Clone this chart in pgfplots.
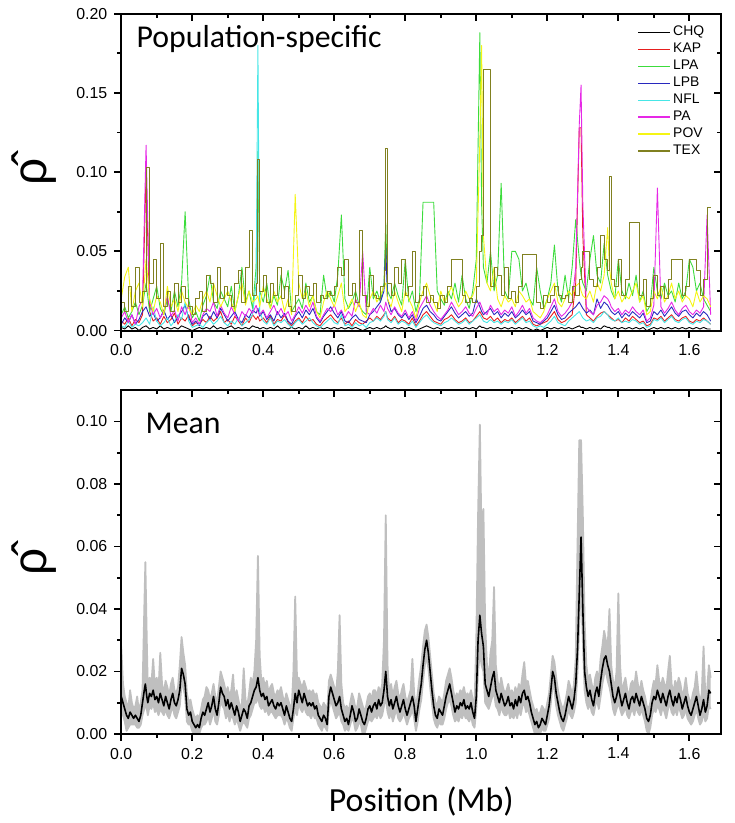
\documentclass[border=0pt]{standalone}
\usepackage{fontspec}
\setmainfont{Liberation Sans}
\newfontfamily\calib{Carlito}
\usepackage{pgfplots}
\pgfplotsset{compat=1.18}
\usepackage{pgfplotstable}
\usepgfplotslibrary{fillbetween}

\definecolor{cCHQ}{RGB}{0,0,0}
\definecolor{cKAP}{RGB}{230,30,30}
\definecolor{cLPA}{RGB}{60,220,60}
\definecolor{cLPB}{RGB}{40,40,190}
\definecolor{cNFL}{RGB}{70,230,230}
\definecolor{cPA}{RGB}{230,40,230}
\definecolor{cPOV}{RGB}{245,245,20}
\definecolor{cTEX}{RGB}{128,128,32}

% population-specific estimates
\pgfplotstableread{
x chq kap lpa lpb nfl pa pov tex
0.00 0.002 0.006 0.010 0.004 0.003 0.008 0.020 0.018
0.01 0.001 0.004 0.015 0.008 0.002 0.012 0.034 0.012
0.02 0.003 0.008 0.008 0.005 0.006 0.005 0.040 0.028
0.03 0.001 0.003 0.012 0.010 0.002 0.010 0.012 0.015
0.04 0.002 0.007 0.018 0.004 0.004 0.004 0.025 0.040
0.05 0.000 0.005 0.010 0.007 0.003 0.015 0.030 0.018
0.06 0.002 0.010 0.016 0.012 0.005 0.020 0.015 0.025
0.07 0.003 0.100 0.030 0.015 0.008 0.117 0.045 0.103
0.08 0.001 0.012 0.012 0.009 0.004 0.018 0.020 0.030
0.09 0.002 0.006 0.020 0.011 0.015 0.010 0.012 0.045
0.10 0.001 0.008 0.028 0.006 0.006 0.014 0.022 0.020
0.11 0.003 0.004 0.014 0.008 0.003 0.008 0.018 0.055
0.12 0.001 0.009 0.010 0.013 0.005 0.012 0.010 0.015
0.13 0.002 0.005 0.020 0.007 0.008 0.022 0.028 0.025
0.14 0.001 0.007 0.012 0.010 0.003 0.009 0.015 0.012
0.15 0.002 0.011 0.025 0.005 0.006 0.013 0.020 0.030
0.16 0.001 0.004 0.015 0.009 0.010 0.006 0.012 0.018
0.17 0.003 0.008 0.030 0.012 0.007 0.015 0.025 0.028
0.18 0.002 0.006 0.075 0.016 0.018 0.010 0.018 0.020
0.19 0.001 0.010 0.020 0.008 0.006 0.017 0.014 0.015
0.20 0.000 0.003 0.008 0.004 0.002 0.005 0.010 0.010
0.21 0.001 0.005 0.012 0.006 0.003 0.008 0.016 0.020
0.22 0.002 0.004 0.006 0.003 0.004 0.004 0.012 0.025
0.23 0.001 0.007 0.016 0.009 0.002 0.010 0.020 0.012
0.24 0.002 0.005 0.022 0.011 0.005 0.014 0.025 0.035
0.25 0.001 0.009 0.035 0.007 0.007 0.012 0.018 0.030
0.26 0.003 0.006 0.018 0.012 0.004 0.018 0.030 0.018
0.27 0.001 0.008 0.014 0.008 0.006 0.009 0.022 0.040
0.28 0.002 0.012 0.025 0.014 0.009 0.016 0.015 0.020
0.29 0.001 0.005 0.020 0.010 0.005 0.011 0.020 0.028
0.30 0.002 0.007 0.015 0.006 0.003 0.008 0.025 0.022
0.31 0.003 0.004 0.028 0.009 0.006 0.015 0.018 0.015
0.32 0.001 0.009 0.012 0.012 0.004 0.010 0.012 0.030
0.33 0.002 0.006 0.022 0.007 0.008 0.006 0.022 0.038
0.34 0.001 0.003 0.040 0.005 0.003 0.012 0.030 0.018
0.35 0.002 0.008 0.018 0.010 0.005 0.009 0.016 0.040
0.36 0.001 0.005 0.025 0.008 0.007 0.014 0.025 0.063
0.37 0.003 0.010 0.014 0.013 0.010 0.011 0.018 0.022
0.38 0.002 0.007 0.040 0.011 0.030 0.016 0.020 0.030
0.385 0.002 0.009 0.113 0.014 0.180 0.012 0.022 0.108
0.39 0.001 0.006 0.025 0.009 0.012 0.010 0.015 0.025
0.40 0.002 0.008 0.018 0.012 0.006 0.013 0.028 0.035
0.41 0.001 0.005 0.030 0.007 0.004 0.008 0.020 0.018
0.42 0.002 0.009 0.014 0.010 0.008 0.012 0.014 0.030
0.43 0.001 0.004 0.022 0.006 0.003 0.016 0.025 0.022
0.44 0.003 0.007 0.016 0.012 0.006 0.010 0.018 0.040
0.45 0.001 0.006 0.035 0.008 0.005 0.014 0.022 0.020
0.46 0.002 0.010 0.025 0.011 0.007 0.009 0.012 0.028
0.47 0.001 0.005 0.038 0.006 0.004 0.012 0.020 0.015
0.48 0.002 0.003 0.012 0.004 0.002 0.006 0.010 0.012
0.49 0.001 0.006 0.016 0.009 0.005 0.010 0.086 0.022
0.50 0.002 0.008 0.020 0.012 0.007 0.015 0.030 0.035
0.51 0.001 0.005 0.014 0.008 0.004 0.011 0.020 0.020
0.52 0.003 0.009 0.030 0.013 0.006 0.016 0.025 0.028
0.53 0.001 0.006 0.018 0.010 0.008 0.012 0.015 0.022
0.54 0.002 0.007 0.022 0.014 0.005 0.018 0.022 0.030
0.55 0.001 0.004 0.012 0.008 0.003 0.009 0.012 0.018
0.56 0.002 0.003 0.010 0.005 0.002 0.006 0.008 0.022
0.57 0.001 0.006 0.035 0.009 0.004 0.010 0.018 0.020
0.58 0.002 0.008 0.020 0.012 0.006 0.014 0.025 0.025
0.59 0.001 0.010 0.025 0.015 0.008 0.012 0.020 0.022
0.60 0.002 0.007 0.018 0.011 0.005 0.016 0.015 0.028
0.61 0.001 0.005 0.035 0.008 0.004 0.010 0.022 0.040
0.62 0.002 0.008 0.073 0.012 0.010 0.013 0.030 0.035
0.63 0.001 0.004 0.020 0.006 0.003 0.008 0.012 0.045
0.64 0.002 0.006 0.014 0.005 0.004 0.012 0.015 0.022
0.65 0.001 0.003 0.018 0.008 0.002 0.009 0.020 0.030
0.66 0.002 0.007 0.025 0.010 0.005 0.020 0.012 0.018
0.67 0.001 0.005 0.016 0.007 0.003 0.015 0.018 0.063
0.68 0.000 0.004 0.012 0.006 0.004 0.050 0.010 0.022
0.69 0.001 0.006 0.010 0.005 0.002 0.012 0.008 0.015
0.70 0.002 0.008 0.040 0.010 0.005 0.010 0.020 0.035
0.71 0.001 0.006 0.020 0.012 0.006 0.014 0.025 0.022
0.72 0.002 0.009 0.025 0.015 0.008 0.011 0.018 0.020
0.73 0.001 0.007 0.018 0.018 0.006 0.016 0.022 0.028
0.74 0.002 0.010 0.030 0.025 0.009 0.012 0.028 0.038
0.745 0.003 0.012 0.068 0.053 0.012 0.018 0.030 0.115
0.75 0.002 0.008 0.025 0.020 0.007 0.014 0.020 0.030
0.76 0.001 0.006 0.020 0.012 0.005 0.010 0.015 0.022
0.77 0.002 0.009 0.030 0.014 0.008 0.015 0.025 0.040
0.78 0.001 0.005 0.022 0.010 0.004 0.011 0.018 0.030
0.79 0.002 0.007 0.016 0.008 0.006 0.009 0.012 0.045
0.80 0.001 0.006 0.045 0.011 0.005 0.013 0.025 0.022
0.81 0.002 0.004 0.018 0.007 0.003 0.008 0.020 0.028
0.82 0.001 0.008 0.025 0.010 0.006 0.012 0.015 0.050
0.83 0.000 0.003 0.012 0.005 0.002 0.006 0.008 0.018
0.84 0.001 0.006 0.020 0.009 0.005 0.014 0.018 0.022
0.85 0.002 0.010 0.081 0.014 0.008 0.018 0.025 0.028
0.86 0.003 0.012 0.081 0.016 0.010 0.022 0.030 0.018
0.87 0.002 0.009 0.081 0.012 0.007 0.016 0.022 0.022
0.88 0.001 0.006 0.081 0.010 0.005 0.012 0.018 0.018
0.89 0.002 0.005 0.025 0.007 0.004 0.009 0.012 0.014
0.90 0.001 0.004 0.020 0.006 0.003 0.007 0.025 0.022
0.91 0.002 0.007 0.016 0.009 0.005 0.010 0.018 0.018
0.92 0.001 0.008 0.025 0.012 0.006 0.013 0.022 0.028
0.93 0.002 0.010 0.020 0.015 0.008 0.018 0.028 0.045
0.94 0.001 0.007 0.030 0.011 0.006 0.014 0.020 0.045
0.95 0.002 0.005 0.018 0.008 0.004 0.010 0.015 0.045
0.96 0.001 0.006 0.035 0.010 0.005 0.012 0.018 0.022
0.97 0.002 0.008 0.020 0.012 0.007 0.015 0.025 0.018
0.98 0.001 0.005 0.014 0.009 0.004 0.011 0.020 0.020
0.99 0.002 0.006 0.025 0.011 0.006 0.009 0.022 0.018
1.00 0.001 0.009 0.045 0.020 0.008 0.014 0.030 0.028
1.01 0.003 0.012 0.188 0.015 0.010 0.018 0.120 0.050
1.015 0.002 0.010 0.080 0.012 0.008 0.015 0.180 0.060
1.02 0.002 0.008 0.040 0.010 0.006 0.012 0.060 0.165
1.03 0.001 0.007 0.030 0.012 0.005 0.010 0.030 0.165
1.04 0.002 0.009 0.050 0.014 0.007 0.016 0.025 0.028
1.05 0.001 0.006 0.025 0.010 0.005 0.012 0.040 0.040
1.06 0.002 0.008 0.035 0.012 0.006 0.014 0.020 0.035
1.07 0.001 0.005 0.093 0.008 0.004 0.010 0.015 0.022
1.08 0.002 0.007 0.025 0.011 0.006 0.013 0.022 0.040
1.09 0.001 0.006 0.020 0.009 0.005 0.011 0.018 0.020
1.10 0.002 0.008 0.050 0.012 0.007 0.015 0.020 0.025
1.11 0.001 0.005 0.050 0.008 0.004 0.009 0.015 0.018
1.12 0.002 0.007 0.045 0.010 0.006 0.012 0.025 0.028
1.13 0.001 0.009 0.025 0.013 0.008 0.016 0.022 0.048
1.14 0.002 0.006 0.030 0.010 0.005 0.011 0.018 0.048
1.15 0.001 0.008 0.020 0.012 0.006 0.014 0.020 0.048
1.16 0.000 0.004 0.016 0.006 0.003 0.008 0.012 0.048
1.17 0.001 0.003 0.040 0.005 0.002 0.006 0.010 0.018
1.18 0.000 0.004 0.025 0.004 0.003 0.005 0.008 0.014
1.19 0.001 0.005 0.014 0.006 0.002 0.007 0.012 0.022
1.20 0.002 0.006 0.020 0.008 0.004 0.010 0.020 0.018
1.21 0.001 0.009 0.030 0.012 0.006 0.015 0.025 0.022
1.22 0.002 0.012 0.054 0.016 0.009 0.020 0.030 0.028
1.23 0.001 0.007 0.025 0.010 0.005 0.012 0.018 0.022
1.24 0.002 0.005 0.018 0.007 0.004 0.009 0.015 0.020
1.25 0.001 0.006 0.035 0.008 0.003 0.011 0.020 0.022
1.26 0.002 0.008 0.020 0.011 0.006 0.014 0.025 0.018
1.27 0.001 0.010 0.040 0.013 0.008 0.018 0.022 0.028
1.28 0.002 0.030 0.070 0.015 0.010 0.040 0.028 0.022
1.29 0.003 0.128 0.045 0.018 0.012 0.130 0.030 0.032
1.295 0.002 0.128 0.035 0.016 0.010 0.155 0.025 0.040
1.30 0.002 0.060 0.030 0.014 0.008 0.080 0.022 0.050
1.31 0.001 0.010 0.025 0.011 0.006 0.015 0.020 0.050
1.32 0.002 0.008 0.045 0.013 0.007 0.012 0.025 0.032
1.33 0.001 0.006 0.060 0.010 0.005 0.010 0.018 0.028
1.34 0.002 0.009 0.035 0.020 0.008 0.016 0.030 0.040
1.35 0.001 0.011 0.030 0.014 0.009 0.018 0.025 0.060
1.36 0.003 0.012 0.055 0.018 0.012 0.022 0.035 0.045
1.37 0.002 0.010 0.035 0.016 0.010 0.020 0.065 0.038
1.375 0.002 0.009 0.030 0.014 0.008 0.018 0.040 0.097
1.38 0.001 0.008 0.025 0.012 0.007 0.015 0.030 0.032
1.39 0.002 0.006 0.020 0.010 0.006 0.012 0.020 0.028
1.40 0.001 0.007 0.045 0.012 0.008 0.014 0.025 0.045
1.41 0.002 0.005 0.025 0.008 0.005 0.010 0.018 0.022
1.42 0.001 0.008 0.020 0.011 0.006 0.013 0.022 0.032
1.43 0.002 0.006 0.030 0.009 0.005 0.011 0.020 0.068
1.44 0.001 0.009 0.022 0.012 0.007 0.015 0.025 0.068
1.45 0.002 0.007 0.035 0.010 0.006 0.012 0.030 0.068
1.46 0.001 0.005 0.018 0.008 0.004 0.010 0.018 0.022
1.47 0.002 0.006 0.025 0.011 0.005 0.013 0.022 0.032
1.48 0.000 0.003 0.012 0.005 0.002 0.006 0.010 0.015
1.49 0.001 0.004 0.016 0.006 0.003 0.008 0.012 0.020
1.50 0.002 0.008 0.040 0.012 0.007 0.016 0.025 0.035
1.51 0.001 0.007 0.025 0.010 0.006 0.090 0.020 0.022
1.52 0.002 0.009 0.020 0.013 0.008 0.015 0.028 0.028
1.53 0.001 0.006 0.030 0.009 0.005 0.011 0.018 0.020
1.54 0.002 0.008 0.022 0.012 0.007 0.014 0.022 0.032
1.55 0.001 0.010 0.025 0.015 0.009 0.018 0.030 0.045
1.56 0.002 0.007 0.018 0.011 0.006 0.013 0.020 0.045
1.57 0.001 0.006 0.030 0.009 0.005 0.010 0.025 0.045
1.58 0.002 0.008 0.020 0.012 0.007 0.014 0.018 0.022
1.59 0.001 0.009 0.025 0.013 0.008 0.016 0.022 0.028
1.60 0.002 0.006 0.045 0.010 0.005 0.012 0.020 0.045
1.61 0.001 0.005 0.040 0.008 0.004 0.010 0.015 0.045
1.62 0.002 0.007 0.025 0.011 0.006 0.013 0.025 0.038
1.63 0.001 0.006 0.030 0.009 0.005 0.011 0.018 0.022
1.64 0.002 0.008 0.020 0.012 0.007 0.015 0.022 0.032
1.65 0.001 0.006 0.016 0.010 0.006 0.073 0.020 0.078
1.66 0.001 0.004 0.012 0.006 0.004 0.010 0.015 0.078
}\pop

% mean and its band
\pgfplotstableread{
x m lo hi
0.000 0.012 0.008 0.028
0.005 0.010 0.006 0.016
0.010 0.008 0.004 0.012
0.015 0.006 0.001 0.010
0.020 0.005 0.002 0.008
0.025 0.007 0.003 0.014
0.030 0.006 0.003 0.010
0.035 0.005 0.003 0.008
0.040 0.006 0.003 0.009
0.045 0.005 0.002 0.012
0.050 0.004 0.002 0.007
0.055 0.006 0.003 0.010
0.060 0.010 0.006 0.014
0.065 0.014 0.008 0.040
0.068 0.016 0.010 0.055
0.072 0.012 0.008 0.030
0.075 0.010 0.006 0.014
0.080 0.013 0.009 0.018
0.085 0.012 0.008 0.016
0.090 0.014 0.010 0.024
0.095 0.011 0.007 0.015
0.100 0.012 0.008 0.018
0.105 0.010 0.006 0.014
0.110 0.013 0.008 0.026
0.115 0.011 0.007 0.016
0.120 0.009 0.006 0.013
0.125 0.012 0.008 0.017
0.130 0.010 0.006 0.015
0.135 0.008 0.005 0.012
0.140 0.011 0.007 0.016
0.145 0.013 0.009 0.018
0.150 0.010 0.006 0.014
0.155 0.009 0.005 0.013
0.160 0.011 0.007 0.015
0.165 0.014 0.009 0.022
0.170 0.021 0.016 0.031
0.175 0.019 0.015 0.026
0.180 0.016 0.012 0.022
0.185 0.008 0.004 0.013
0.190 0.006 0.003 0.010
0.195 0.007 0.003 0.011
0.200 0.004 0.001 0.008
0.205 0.003 0.000 0.006
0.210 0.002 0.000 0.005
0.215 0.003 0.001 0.006
0.220 0.002 0.000 0.005
0.225 0.005 0.002 0.008
0.230 0.007 0.003 0.011
0.235 0.006 0.003 0.012
0.240 0.008 0.004 0.015
0.245 0.010 0.006 0.014
0.250 0.007 0.003 0.011
0.255 0.009 0.005 0.013
0.260 0.012 0.008 0.016
0.265 0.008 0.004 0.012
0.270 0.006 0.003 0.010
0.275 0.010 0.006 0.015
0.280 0.015 0.011 0.020
0.285 0.013 0.009 0.018
0.290 0.012 0.008 0.016
0.295 0.009 0.005 0.013
0.300 0.011 0.007 0.015
0.305 0.008 0.004 0.012
0.310 0.010 0.006 0.014
0.315 0.008 0.005 0.019
0.320 0.006 0.003 0.010
0.325 0.009 0.005 0.014
0.330 0.007 0.003 0.011
0.335 0.004 0.001 0.008
0.340 0.006 0.003 0.010
0.345 0.008 0.004 0.021
0.350 0.007 0.003 0.011
0.355 0.005 0.002 0.009
0.360 0.009 0.005 0.013
0.365 0.010 0.006 0.018
0.370 0.012 0.008 0.016
0.375 0.014 0.010 0.020
0.380 0.015 0.010 0.030
0.385 0.018 0.012 0.057
0.390 0.014 0.009 0.025
0.395 0.012 0.008 0.016
0.400 0.013 0.009 0.018
0.405 0.011 0.007 0.015
0.410 0.012 0.008 0.017
0.415 0.009 0.006 0.013
0.420 0.010 0.007 0.015
0.425 0.011 0.007 0.016
0.430 0.009 0.006 0.013
0.435 0.008 0.005 0.012
0.440 0.010 0.006 0.014
0.445 0.009 0.006 0.013
0.450 0.010 0.006 0.015
0.455 0.008 0.005 0.012
0.460 0.006 0.003 0.010
0.465 0.009 0.005 0.013
0.470 0.007 0.004 0.011
0.475 0.005 0.002 0.009
0.480 0.004 0.001 0.008
0.485 0.008 0.005 0.020
0.490 0.013 0.008 0.044
0.495 0.010 0.006 0.018
0.500 0.014 0.010 0.018
0.505 0.012 0.008 0.016
0.510 0.010 0.007 0.015
0.515 0.013 0.009 0.017
0.520 0.011 0.007 0.015
0.525 0.009 0.006 0.013
0.530 0.010 0.006 0.014
0.535 0.009 0.005 0.013
0.540 0.010 0.007 0.014
0.545 0.008 0.005 0.012
0.550 0.009 0.005 0.013
0.555 0.006 0.003 0.010
0.560 0.005 0.002 0.009
0.565 0.004 0.001 0.008
0.570 0.006 0.003 0.010
0.575 0.005 0.002 0.009
0.580 0.003 0.001 0.007
0.585 0.012 0.008 0.017
0.590 0.015 0.011 0.019
0.595 0.013 0.009 0.017
0.600 0.011 0.007 0.015
0.605 0.009 0.005 0.013
0.610 0.010 0.006 0.020
0.615 0.012 0.007 0.038
0.620 0.008 0.004 0.016
0.625 0.006 0.003 0.010
0.630 0.004 0.001 0.008
0.635 0.005 0.002 0.009
0.640 0.003 0.001 0.007
0.645 0.006 0.003 0.010
0.650 0.009 0.005 0.013
0.655 0.007 0.004 0.011
0.660 0.004 0.001 0.008
0.665 0.005 0.002 0.009
0.670 0.008 0.004 0.013
0.675 0.006 0.003 0.011
0.680 0.004 0.000 0.009
0.685 0.003 0.000 0.007
0.690 0.005 0.002 0.009
0.695 0.008 0.004 0.012
0.700 0.009 0.005 0.013
0.705 0.007 0.004 0.011
0.710 0.009 0.005 0.014
0.715 0.010 0.006 0.014
0.720 0.008 0.005 0.012
0.725 0.011 0.007 0.015
0.730 0.009 0.005 0.013
0.735 0.010 0.006 0.016
0.740 0.014 0.009 0.030
0.745 0.020 0.012 0.070
0.750 0.012 0.007 0.022
0.755 0.009 0.005 0.013
0.760 0.011 0.007 0.016
0.765 0.008 0.004 0.012
0.770 0.010 0.006 0.015
0.775 0.012 0.008 0.017
0.780 0.009 0.005 0.013
0.785 0.007 0.004 0.011
0.790 0.009 0.005 0.014
0.795 0.011 0.007 0.016
0.800 0.008 0.005 0.012
0.805 0.006 0.003 0.010
0.810 0.008 0.005 0.012
0.815 0.010 0.006 0.014
0.820 0.012 0.008 0.024
0.825 0.009 0.005 0.013
0.830 0.004 0.001 0.008
0.835 0.008 0.004 0.013
0.840 0.012 0.008 0.018
0.845 0.016 0.011 0.022
0.850 0.022 0.017 0.028
0.855 0.027 0.022 0.033
0.860 0.030 0.025 0.035
0.865 0.026 0.021 0.031
0.870 0.020 0.015 0.025
0.875 0.014 0.010 0.019
0.880 0.009 0.005 0.013
0.885 0.006 0.003 0.010
0.890 0.005 0.002 0.009
0.895 0.008 0.004 0.012
0.900 0.007 0.003 0.011
0.905 0.006 0.003 0.010
0.910 0.009 0.005 0.013
0.915 0.012 0.008 0.017
0.920 0.014 0.010 0.019
0.925 0.016 0.011 0.021
0.930 0.013 0.009 0.018
0.935 0.010 0.006 0.014
0.940 0.007 0.004 0.011
0.945 0.009 0.005 0.013
0.950 0.008 0.004 0.012
0.955 0.010 0.006 0.014
0.960 0.009 0.005 0.013
0.965 0.011 0.007 0.015
0.970 0.008 0.005 0.012
0.975 0.009 0.005 0.013
0.980 0.008 0.004 0.012
0.985 0.010 0.006 0.014
0.990 0.007 0.003 0.011
0.995 0.005 0.002 0.009
1.000 0.012 0.008 0.030
1.005 0.030 0.020 0.070
1.010 0.038 0.026 0.099
1.015 0.032 0.022 0.060
1.020 0.028 0.020 0.072
1.025 0.016 0.010 0.035
1.030 0.014 0.009 0.022
1.035 0.012 0.008 0.018
1.040 0.015 0.010 0.026
1.045 0.018 0.012 0.030
1.050 0.020 0.013 0.047
1.055 0.014 0.009 0.022
1.060 0.012 0.008 0.017
1.065 0.010 0.006 0.014
1.070 0.013 0.009 0.018
1.075 0.011 0.007 0.015
1.080 0.009 0.006 0.013
1.085 0.010 0.006 0.014
1.090 0.012 0.008 0.016
1.095 0.009 0.005 0.013
1.100 0.010 0.006 0.014
1.105 0.008 0.005 0.012
1.110 0.011 0.007 0.015
1.115 0.009 0.005 0.013
1.120 0.012 0.008 0.016
1.125 0.010 0.006 0.014
1.130 0.013 0.009 0.019
1.135 0.014 0.010 0.023
1.140 0.011 0.007 0.016
1.145 0.012 0.008 0.017
1.150 0.010 0.006 0.014
1.155 0.007 0.004 0.011
1.160 0.005 0.002 0.009
1.165 0.003 0.000 0.007
1.170 0.004 0.001 0.008
1.175 0.002 0.000 0.006
1.180 0.003 0.000 0.007
1.185 0.005 0.002 0.009
1.190 0.004 0.001 0.008
1.195 0.003 0.001 0.007
1.200 0.006 0.003 0.010
1.205 0.009 0.005 0.013
1.210 0.014 0.010 0.019
1.215 0.020 0.016 0.025
1.220 0.018 0.014 0.023
1.225 0.013 0.009 0.018
1.230 0.010 0.006 0.014
1.235 0.007 0.004 0.011
1.240 0.005 0.002 0.009
1.245 0.004 0.001 0.008
1.250 0.006 0.003 0.010
1.255 0.009 0.005 0.013
1.260 0.012 0.008 0.017
1.265 0.010 0.006 0.015
1.270 0.008 0.005 0.012
1.275 0.011 0.007 0.016
1.280 0.016 0.010 0.024
1.285 0.027 0.020 0.060
1.290 0.045 0.035 0.094
1.295 0.063 0.050 0.094
1.300 0.040 0.030 0.070
1.305 0.020 0.014 0.036
1.310 0.015 0.010 0.022
1.315 0.012 0.008 0.017
1.320 0.014 0.010 0.019
1.325 0.011 0.007 0.016
1.330 0.009 0.006 0.013
1.335 0.013 0.009 0.018
1.340 0.015 0.011 0.020
1.345 0.012 0.008 0.017
1.350 0.017 0.012 0.024
1.355 0.021 0.016 0.028
1.360 0.024 0.019 0.033
1.365 0.025 0.020 0.030
1.370 0.022 0.017 0.028
1.375 0.020 0.015 0.040
1.380 0.016 0.012 0.022
1.385 0.012 0.008 0.017
1.390 0.010 0.006 0.015
1.395 0.012 0.008 0.020
1.400 0.015 0.010 0.045
1.405 0.012 0.008 0.022
1.410 0.009 0.006 0.013
1.415 0.011 0.007 0.016
1.420 0.013 0.009 0.018
1.425 0.010 0.006 0.014
1.430 0.008 0.005 0.012
1.435 0.011 0.007 0.016
1.440 0.012 0.008 0.017
1.445 0.010 0.006 0.015
1.450 0.013 0.009 0.020
1.455 0.011 0.007 0.016
1.460 0.009 0.006 0.013
1.465 0.012 0.008 0.017
1.470 0.010 0.006 0.014
1.475 0.008 0.004 0.012
1.480 0.005 0.001 0.009
1.485 0.004 0.000 0.008
1.490 0.006 0.002 0.010
1.495 0.010 0.006 0.014
1.500 0.012 0.008 0.017
1.505 0.011 0.007 0.016
1.510 0.014 0.009 0.022
1.515 0.012 0.008 0.017
1.520 0.010 0.006 0.015
1.525 0.013 0.009 0.018
1.530 0.011 0.007 0.016
1.535 0.009 0.005 0.014
1.540 0.012 0.008 0.020
1.545 0.014 0.010 0.025
1.550 0.011 0.007 0.016
1.555 0.009 0.006 0.013
1.560 0.012 0.008 0.017
1.565 0.010 0.006 0.015
1.570 0.013 0.009 0.018
1.575 0.011 0.007 0.016
1.580 0.008 0.005 0.012
1.585 0.010 0.006 0.014
1.590 0.012 0.008 0.018
1.595 0.009 0.005 0.013
1.600 0.007 0.004 0.011
1.605 0.006 0.003 0.010
1.610 0.008 0.004 0.013
1.615 0.010 0.006 0.015
1.620 0.012 0.008 0.020
1.625 0.009 0.005 0.014
1.630 0.006 0.003 0.010
1.635 0.008 0.004 0.013
1.640 0.011 0.007 0.028
1.645 0.007 0.004 0.012
1.650 0.009 0.005 0.014
1.655 0.014 0.009 0.022
1.660 0.013 0.008 0.018
}\mean

\pgfplotsset{
  panel/.style={
    scale only axis, width=302pt,
    xmin=0, xmax=1.69,
    xtick={0,0.2,0.4,0.6,0.8,1.0,1.2,1.4,1.6}, minor x tick num=1,
    axis line style={line width=1pt},
    major tick length=3.5pt, minor tick length=2pt,
    every tick/.style={black, line width=0.9pt},
    ticklabel style={font=\fontsize{8}{10}\selectfont},
    /pgf/number format/assume math mode=true,
    xticklabel style={/pgf/number format/.cd, fixed, fixed zerofill, precision=1},
    yticklabel style={/pgf/number format/.cd, fixed, fixed zerofill, precision=2},
  },
  outer/.style={panel, tick align=outside, xtick pos=bottom, ytick pos=left},
  inner/.style={panel, tick align=inside, xtick pos=top, ytick pos=right,
    xticklabels={}, yticklabels={}},
  rholabel/.style={ylabel={\fontsize{24}{24}\selectfont ρ̂},
    ylabel style={at={(axis description cs:-0.146,0.5)}, anchor=center}},
}

\begin{document}
\begin{tikzpicture}
\path (0,0) rectangle (368.5pt,-411.5pt);

% top panel
\begin{axis}[outer, rholabel, at={(61pt,-164.5pt)}, anchor=south west, height=159.5pt,
  ymin=0, ymax=0.2, ytick={0,0.05,0.1,0.15,0.2}, minor y tick num=1,
  legend style={at={(axis description cs:0.85,0.982)}, anchor=north west, draw=none, fill=none,
    font=\fontsize{7}{8}\selectfont, row sep=-0.2pt, nodes={inner sep=1.2pt}},
  legend cell align=left,
  legend image code/.code={\draw[#1, line width=0.7pt] (0pt,0pt) -- (16pt,0pt);},
  every axis plot/.append style={line width=0.45pt, line join=round}]
\addplot[cCHQ] table[x=x, y=chq]{\pop};
\addplot[cKAP] table[x=x, y=kap]{\pop};
\addplot[cLPA] table[x=x, y=lpa]{\pop};
\addplot[cLPB] table[x=x, y=lpb]{\pop};
\addplot[cNFL] table[x=x, y=nfl]{\pop};
\addplot[cPA] table[x=x, y=pa]{\pop};
\addplot[cPOV] table[x=x, y=pov]{\pop};
\addplot[cTEX, const plot] table[x=x, y=tex]{\pop};
\legend{CHQ, KAP, LPA, LPB, NFL, PA, POV, TEX}
\node[anchor=base west, inner sep=0pt, font=\calib\fontsize{16}{18}\selectfont]
  at (axis description cs:0.025,0.893) {Population-specific};
\end{axis}
\begin{axis}[inner, at={(61pt,-164.5pt)}, anchor=south west, height=159.5pt,
  ymin=0, ymax=0.2, ytick={0,0.05,0.1,0.15,0.2}, minor y tick num=1]
\end{axis}

% bottom panel
\begin{axis}[outer, rholabel, at={(61pt,-367.5pt)}, anchor=south west, height=173pt,
  ymin=0, ymax=0.11, ytick={0,0.02,0.04,0.06,0.08,0.1}, minor y tick num=1,
  xlabel={\calib\fontsize{17}{20}\selectfont Position (Mb)},
  xlabel style={at={(axis description cs:0.5,-0.197)}, anchor=center}]
\addplot[name path=hi, draw=gray!50, line width=0.9pt, line join=round] table[x=x, y=hi]{\mean};
\addplot[name path=lo, draw=gray!50, line width=0.9pt, line join=round] table[x=x, y=lo]{\mean};
\addplot[gray!50] fill between[of=hi and lo];
\addplot[black, line width=0.8pt, line join=round] table[x=x, y=m]{\mean};
\node[anchor=base west, inner sep=0pt, font=\calib\fontsize{16}{18}\selectfont]
  at (axis description cs:0.04,0.873) {Mean};
\end{axis}
\begin{axis}[inner, at={(61pt,-367.5pt)}, anchor=south west, height=173pt,
  ymin=0, ymax=0.11, ytick={0,0.02,0.04,0.06,0.08,0.1}, minor y tick num=1]
\end{axis}
\end{tikzpicture}
\end{document}
